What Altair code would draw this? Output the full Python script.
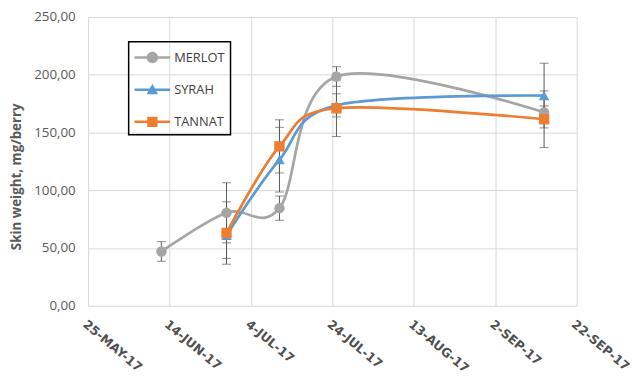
import altair as alt
import pandas as pd

varieties = ["MERLOT", "SYRAH", "TANNAT"]
colors = ["#A5A5A5", "#5B9BD5", "#ED7D31"]
marker_shapes = ["circle", "triangle-up", "square"]
marker_sizes = [110, 115, 110]

merlot_dates = ["2017-06-12", "2017-06-28", "2017-07-11", "2017-07-25", "2017-09-14"]
merlot_values = [47.0, 80.5, 84.5, 198.5, 167.5]
merlot_errors = [8.5, 26.0, 10.5, 8.5, 5.5]

syrah_dates = ["2017-06-28", "2017-07-11", "2017-07-25", "2017-09-14"]
syrah_values = [61.0, 126.5, 173.5, 182.0]
syrah_errors = [20.0, 28.0, 10.0, 28.0]

tannat_dates = ["2017-06-28", "2017-07-11", "2017-07-25", "2017-09-14"]
tannat_values = [63.0, 138.0, 171.0, 161.5]
tannat_errors = [27.0, 23.0, 24.5, 24.5]

x_ticks = ["2017-05-25", "2017-06-14", "2017-07-04", "2017-07-24",
           "2017-08-13", "2017-09-02", "2017-09-22"]
y_ticks = [0, 50, 100, 150, 200, 250]

# legend symbols: a short line with the series marker on it (unit = 10 px)
legend_paths = [
    "M-1,-0.125H2.6V0.125H-1Z M1.38,0A0.58,0.58,0,1,1,0.22,0A0.58,0.58,0,1,1,1.38,0Z",
    "M-1,-0.125H2.6V0.125H-1Z M0.8,-0.6L1.38,0.47L0.22,0.47Z",
    "M-1,-0.125H2.6V0.125H-1Z M0.28,-0.52H1.32V0.52H0.28Z",
]

rows = []
for name, ds, vs, es in [("MERLOT", merlot_dates, merlot_values, merlot_errors),
                         ("SYRAH", syrah_dates, syrah_values, syrah_errors),
                         ("TANNAT", tannat_dates, tannat_values, tannat_errors)]:
    for d, v, e in zip(ds, vs, es):
        rows.append({"variety": name, "date": d, "value": v, "lo": v - e, "hi": v + e})
df = pd.DataFrame(rows)


def dt(s):
    y, m, d = (int(p) for p in s.split("-"))
    return alt.DateTime(year=y, month=m, date=d, utc=True)


color_scale = alt.Scale(domain=varieties, range=colors)

leg = alt.Legend(
    title=None, orient="none", legendX=41, legendY=25,
    strokeColor="#000000", padding=6, symbolSize=400,
    labelFont="Open Sans", labelFontSize=13, labelColor="#404040",
    labelOffset=20, rowPadding=15.5, symbolOpacity=1, symbolStrokeWidth=0,
)
color_enc = alt.Color("variety:N", scale=color_scale, legend=leg)

x_enc = alt.X(
    "date:T",
    scale=alt.Scale(type="utc", domain=[dt(x_ticks[0]), dt(x_ticks[-1])]),
    axis=alt.Axis(
        values=[dt(t) for t in x_ticks],
        labelExpr="upper(utcFormat(datum.value, '%-d-%b-%y'))",
        labelAngle=40, labelAlign="left", labelBaseline="top",
        labelPadding=12, labelFont="DejaVu Sans", labelFontWeight="bold",
        labelFontSize=12.5, labelColor="#505050", title=None,
        ticks=False, domain=False, grid=True, gridColor="#d9d9d9",
        labelOverlap=False, labelBound=False, labelFlush=False,
    ),
)
y_enc = alt.Y(
    "value:Q",
    scale=alt.Scale(domain=[0, 250], nice=False),
    axis=alt.Axis(
        values=y_ticks,
        labelExpr="replace(format(datum.value, '.2f'), '.', ',')",
        labelFont="Open Sans", labelFontSize=13.5, labelColor="#595959",
        labelPadding=13, ticks=False, domain=False, grid=True, gridColor="#d9d9d9",
        title="Skin weight, mg/berry", titleFont="Open Sans", titleFontSize=13.5,
        titleFontWeight="bold", titleColor="#595959",
        titleX=-72, titleY=161, titleAngle=270, titleAlign="center",
        titleBaseline="middle",
    ),
)

base = alt.Chart(df)

lines = base.mark_line(interpolate="cardinal", strokeWidth=2.75).encode(
    x=x_enc, y=y_enc, color=color_enc, detail="variety:N",
)

err_rules = base.mark_rule(color="#595959", strokeWidth=1).encode(
    x="date:T", y="lo:Q", y2="hi:Q"
)
err_caps = base.transform_fold(["lo", "hi"], as_=["k", "cap"]).mark_tick(
    orient="horizontal", size=9, thickness=1, color="#595959"
).encode(x="date:T", y="cap:Q")

point_layers = []
for name, shp, sz in zip(varieties, marker_shapes, marker_sizes):
    point_layers.append(
        base.transform_filter(alt.datum.variety == name)
        .mark_point(filled=True, opacity=1, shape=shp, size=sz)
        .encode(x="date:T", y="value:Q", color=color_enc)
    )

legend_layer = base.mark_point(filled=True, opacity=0).encode(
    x="date:T", y="value:Q",
    color=color_enc,
    shape=alt.Shape("variety:N", scale=alt.Scale(domain=varieties, range=legend_paths), legend=leg),
)

chart = alt.layer(lines, err_rules, err_caps, *point_layers, legend_layer).properties(
    width=494, height=292,
    autosize=alt.AutoSizeParams(type="none"),
    padding={"left": 81, "top": 7, "right": 60, "bottom": 78},
).configure_view(stroke=None).configure_legend(strokeWidth=1.5)

chart.save("out.html", embed_options={"renderer": "svg", "actions": False})
